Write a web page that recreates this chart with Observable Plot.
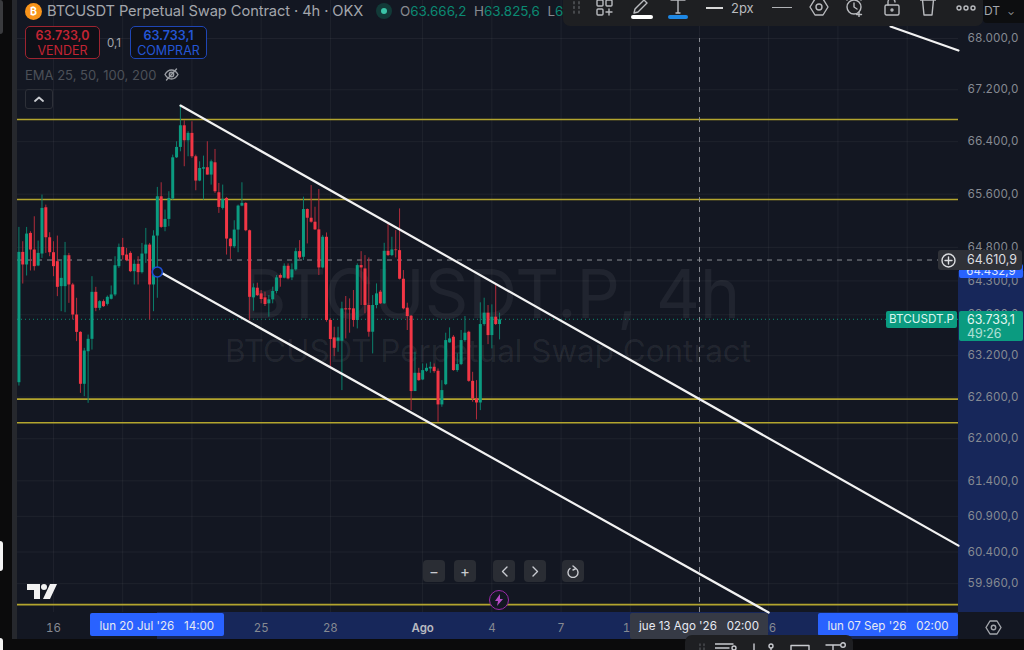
<!DOCTYPE html>
<html lang="es">
<head>
<meta charset="utf-8">
<script src="https://cdn.jsdelivr.net/npm/d3@7"></script>
<script src="https://cdn.jsdelivr.net/npm/@observablehq/plot@0.6"></script>
<style>
html,body{margin:0;padding:0;background:#0b0b0c;}
#stage{position:relative;width:1024px;height:650px;overflow:hidden;font-family:Inter,"Noto Sans",sans-serif;color:#9a9da3;}
#stage svg.plot-root{position:absolute;left:0;top:0;z-index:1;}
.ab{position:absolute;box-sizing:border-box;}
.under{z-index:0;}
.over{z-index:2;white-space:nowrap;}
.btn{background:#2a2d34;border-radius:4px;width:22px;height:22px;display:flex;align-items:center;justify-content:center;color:#c9cbd0;}
.tl{height:23px;line-height:26px;color:#e6e9f2;font-size:11.6px;text-align:center;border-radius:2px;}
</style>
</head>
<body>
<div id="stage">
  <div class="ab under" style="left:17px;top:0;width:1007px;height:639px;background:#131722"></div>
  <div class="ab under" style="left:12px;top:0;width:5px;height:639px;background:#26282d"></div>
  <div class="ab under" style="left:157px;top:612px;width:801px;height:27px;background:#17275a"></div>
  <div class="ab under" id="priceBand" style="left:958px;width:66px;background:#17275a"></div>
</div>
<script>
const opens = [62807,64725,64537,65009,64760,64522,64700,65395,64944,64720,64586,64215,64215,64675,64240,63796,63541,62784,63258,63439,64131,63894,63993,63953,64028,64092,64512,64799,64685,64710,64437,64547,64423,64700,64834,64240,64969,65561,65099,65219,65526,66153,66312,66644,66414,66527,66169,65799,65980,66002,65890,66077,65622,65385,65536,64924,64809,65059,65420,65461,65049,
64049,64192,64108,64049,63961,64020,64143,64380,64340,64518,64345,64464,64736,64652,65368,65237,65177,65062,64493,64951,63715,63460,63411,63411,63887,63887,63887,63715,64528,64478,63936,63543,63936,64133,63961,64741,64677,64761,64751,64325,63897,63779,62679,62944,62847,62973,63007,63031,62973,62486,62779,63387,63470,62983,63070,63421,63543,62827,62572,62514,63656,63823,63494,63764,63656];
const highs = [65099,64884,65099,65034,65259,64894,65587,65435,65019,64884,64969,64610,64874,64710,64264,64043,63551,63307,63502,64363,64205,64008,64018,64077,64225,64660,64849,64934,64784,64735,64610,64660,64859,65084,64859,65049,65703,65773,65360,65637,66194,66399,66963,66721,66552,66706,66194,66092,66179,66399,66118,66281,65763,65738,65551,64934,65199,65435,65773,65471,65059,
64256,64266,64158,64133,64083,64207,64380,64404,64553,64553,64553,64786,64901,65555,65378,65731,65403,65671,64976,65016,63740,63617,63617,63985,64069,64034,64158,64553,64736,64677,64642,64083,64256,64158,64861,65152,64951,65052,65378,64454,63970,63789,63250,63016,63080,63080,63104,63080,63007,62837,63529,63607,63494,63226,63568,63774,63558,62958,62837,63976,64044,63936,63946,64246,63823];
const lows = [62759,64254,64373,64447,64447,64512,64635,64710,64660,64363,64067,63845,63830,63968,63722,63405,62653,62605,62509,63282,63845,63860,63909,63929,64018,64067,64487,64610,64586,64423,64240,64240,64403,64561,63722,63845,64043,65084,65034,65109,65511,66143,66245,66017,66169,66143,65652,65789,65511,65890,65738,65612,65310,65360,64685,64620,64784,64720,65410,65034,63712,
63852,64069,63961,63921,63764,63961,64108,64207,64330,64315,64305,64444,64618,64603,64851,65162,65052,64380,64478,63690,63041,63187,63250,62693,63445,63529,63617,63592,63936,63813,63470,63226,63887,63951,63951,64662,64662,64642,64315,63872,63568,62404,62679,62827,62837,62958,62944,62944,62236,62452,62765,63382,62973,62958,63055,63396,62813,62524,62270,62404,63632,63362,63299,63641,63431];
const closes = [64725,64537,64999,64760,64512,64710,65385,64944,64720,64512,64205,64338,64675,64240,63796,63541,62784,63268,63439,64131,63894,63993,63919,64057,64092,64526,64799,64675,64600,64437,64547,64423,64700,64834,64240,64969,65561,65099,65219,65536,66153,66312,66644,66414,66527,66169,65799,65990,66002,65890,66092,65637,65400,65521,64924,64809,65059,65420,65461,65049,64057,
64197,64083,64025,63951,64020,64143,64345,64340,64518,64330,64464,64736,64642,65368,65237,65177,65062,64493,64951,63715,63436,63308,63460,63887,63872,63872,63715,64528,64493,63936,63543,63936,64108,63961,64741,64677,64761,64751,64325,63887,63774,62679,62944,62837,62983,63016,63031,62968,62486,62693,63421,63445,62983,63070,63421,63529,62827,62572,62514,63656,63823,63494,63764,63656,63725];
const firstCandle = "2026-07-14T14:00Z";
const candleHours = 4;

const levels = [66740,65520,62570,62230,59671];
const channelUpper = [["2026-07-21T14:06Z",66956],["2026-08-24T07:26Z",60489]];
const channelLower = [["2026-07-20T14:00Z",64454],["2026-08-16T02:00Z",59563]];
const channelThird = [["2026-08-21T08:43Z",68188],["2026-08-24T07:26Z",67812]];
const crossPrice = 64610.9, crossDate = "2026-08-13T02:00Z", lastPrice = 63733.1, anchorPrice = 64432.9, anchorDate = "2026-07-20T14:00Z";

const yTicks = [68000,67200,66400,65600,64800,64300,63800,63200,62600,62000,61400,60900,60400,59960];
const xTicks = ["07-16","07-19","07-22","07-25","07-28","08-01","08-04","08-07","08-10","08-13","08-16","08-19","08-22"];
const xLabels = ["16","","","25","28","Ago","4","7","10","","16","",""];

const D = s => new Date(s);
const t0 = +D(firstCandle);
const candles = opens.map((o,i)=>({date:new Date(t0+i*candleHours*3600e3),o,h:highs[i],l:lows[i],c:closes[i],up:closes[i]>=o}));
const xT = xTicks.map(s=>D("2026-"+s+"T02:00Z"));
const xLab = new Map(xT.map((d,i)=>[+d,xLabels[i]]));
const es = d3.formatLocale({decimal:",",thousands:".",grouping:[3]}).format(",.1f");
const seg = (a)=>a.map(([d,p])=>({d:D(d),p}));
const GREEN="#0b9b80", RED="#f23645", GW="#0b7f6b", RW="#b02c3b", YEL="#b3a52e";

const plot = Plot.plot({
  width:1024,height:639,marginLeft:17,marginRight:66,marginTop:0,marginBottom:27,
  style:{background:"transparent",fontFamily:"Inter,'Noto Sans',sans-serif",fontSize:"11.5px",color:"#868a92"},
  x:{type:"utc",domain:[D("2026-07-14T12:32Z"),D("2026-08-24T07:26Z")]},
  y:{type:"log",domain:[59563,68599]},
  marks:[
    Plot.ruleX(xT,{stroke:"#fff",strokeOpacity:.05}),
    Plot.ruleY(yTicks,{stroke:"#fff",strokeOpacity:.05}),
    Plot.text(["BTCUSDT.P, 4h"],{frameAnchor:"middle",dx:3,dy:-10,fontSize:68,fill:"#fff",fillOpacity:.06}),
    Plot.text(["BTCUSDT Perpetual Swap Contract"],{frameAnchor:"middle",dx:0,dy:45,fontSize:31.4,fill:"#fff",fillOpacity:.07}),
    Plot.ruleY(levels,{stroke:YEL,strokeWidth:1.6}),
    Plot.ruleY([crossPrice],{stroke:"#8a8d94",strokeDasharray:"5,5",strokeWidth:1}),
    Plot.ruleY([lastPrice],{stroke:"#0b8a73",strokeDasharray:"1,3",strokeWidth:1}),
    Plot.ruleX(candles,{x:"date",y1:"l",y2:"h",stroke:d=>d.up?GW:RW,strokeWidth:1}),
    Plot.ruleX(candles,{x:"date",y1:"o",y2:"c",stroke:d=>d.up?GREEN:RED,strokeWidth:3}),
    Plot.ruleX([D(crossDate)],{y1:59563,y2:68000,stroke:"#8a8d94",strokeDasharray:"5,5",strokeWidth:1}),
    Plot.line(seg(channelUpper),{x:"d",y:"p",stroke:"#f2f2f2",strokeWidth:2.2}),
    Plot.line(seg(channelLower),{x:"d",y:"p",stroke:"#f2f2f2",strokeWidth:2.2}),
    Plot.line(seg(channelThird),{x:"d",y:"p",stroke:"#f2f2f2",strokeWidth:2.2}),
    Plot.dot([{d:D(anchorDate),p:anchorPrice}],{x:"d",y:"p",r:5,stroke:"#1e50d8",strokeWidth:1.6,fill:"#131722"}),
    Plot.axisY({anchor:"right",ticks:yTicks,tickSize:0,tickPadding:9,tickFormat:es,label:null,fill:"#868a92"}),
    Plot.axisX({anchor:"bottom",ticks:xT.filter(d=>xLab.get(+d)&&xLab.get(+d)!=="Ago"),tickSize:0,tickPadding:11,tickFormat:d=>xLab.get(+d),label:null,fill:"#868a92"}),
    Plot.axisX({anchor:"bottom",ticks:xT.filter(d=>xLab.get(+d)==="Ago"),tickSize:0,tickPadding:11,tickFormat:d=>xLab.get(+d),label:null,fill:"#b8bac0",fontWeight:600})
  ]
});
plot.classList.add("plot-root");
const stage=document.getElementById("stage");
stage.appendChild(plot);
const X=plot.scale("x").apply, Y=plot.scale("y").apply;

document.getElementById("priceBand").style.top=Y(anchorPrice)+"px";
document.getElementById("priceBand").style.height=(612-Y(anchorPrice))+"px";

function el(style,html,cls){const d=document.createElement("div");d.className="ab over "+(cls||"");d.style.cssText=style;d.innerHTML=html||"";stage.appendChild(d);return d;}
const ic=(w,h,body,extra)=>`<svg width="${w}" height="${h}" viewBox="0 0 ${w} ${h}" fill="none" stroke="currentColor" stroke-width="1.4" stroke-linecap="round" stroke-linejoin="round" style="display:block;${extra||''}">${body}</svg>`;

// left / bottom screen furniture
el("left:0;top:0;width:12px;height:650px;background:#0b0b0c");
el("left:0;top:0;width:3px;height:34px;background:#3a3b3e;border-radius:0 3px 3px 0");
el("left:0;top:541px;width:3px;height:30px;background:#f4f4f4;border-radius:0 3px 3px 0");
el("left:0;top:638px;width:3px;height:12px;background:#f4f4f4;border-radius:0 3px 0 0");

// header
el("left:25px;top:3px;width:17px;height:17px;border-radius:50%;background:#f7931a;color:#fff;font-size:10.5px;font-weight:700;text-align:center;line-height:17px","₿");
el("left:47px;top:2px;font-size:14.7px;line-height:19px;color:#a3a6ac;letter-spacing:-.1px","BTCUSDT Perpetual Swap Contract · 4h · OKX");
el("left:376px;top:3px;width:16px;height:16px;border-radius:50%;background:#123a38");
el("left:381px;top:8px;width:6px;height:6px;border-radius:50%;background:#3bc4a8");
el("left:400px;top:3px;font-size:13.4px;line-height:16px;color:#878a90","O<span style='color:#0b8a73'>63.666,2</span>&nbsp; H<span style='color:#0b8a73'>63.825,6</span>&nbsp; L<span style='color:#0b8a73'>63</span>");
el("left:25px;top:26px;width:75px;height:33px;border:1px solid #9d2430;border-radius:5px;background:#0e1017;text-align:center;color:#c22433;font-size:12.5px;line-height:15px;padding-top:1px","<b style='font-weight:600'>63.733,0</b><br>VENDER");
el("left:107px;top:36px;font-size:11.5px;color:#a3a6ac","0,1");
el("left:130px;top:26px;width:77px;height:33px;border:1px solid #1f46b5;border-radius:5px;background:#0e1017;text-align:center;color:#2456d6;font-size:12.5px;line-height:15px;padding-top:1px","<b style='font-weight:600'>63.733,1</b><br>COMPRAR");
el("left:25px;top:67px;font-size:13px;color:#4c5058;line-height:16px","EMA 25, 50, 100, 200");
el("left:164px;top:67px;color:#9a9da3",ic(15,15,'<path d="M1 7.5C3 4 5 3 7.5 3S12 4 14 7.5C12 11 10 12 7.5 12S3 11 1 7.5Z"/><circle cx="7.5" cy="7.5" r="2.2"/><path d="M12.5 2L2.5 13"/>'));
el("left:25px;top:89px;width:28px;height:20px;border:1px solid #2d3038;border-radius:3px;color:#c9cbd0;display:flex;align-items:center;justify-content:center",ic(10,6,'<path d="M1 5L5 1.5 9 5" stroke-width="1.8"/>'));

// top toolbar
el("left:563px;top:-6px;width:420px;height:32px;background:#1e1f22;border-radius:0 0 7px 7px");
const c="#b9bbbf";
el(`left:572px;top:1px;color:#4c4e52`,ic(9,14,'<path d="M2 1v12M7 1v12" stroke-dasharray="1.5,3.2" stroke-width="1.8"/>'));
el(`left:596px;top:0;color:${c}`,ic(18,16,'<rect x="1" y="0" width="6" height="6" rx="1"/><rect x="10" y="0" width="6" height="6" rx="1"/><rect x="1" y="9" width="6" height="6" rx="1"/><path d="M13 9v6M10 12h6"/>'));
el(`left:632px;top:-2px;color:${c}`,ic(20,17,'<path d="M2 15l1-4L12 2l3 3-9 9z"/>'));
el("left:631px;top:15px;width:22px;height:4px;border-radius:2px;background:#fff");
el(`left:670px;top:-2px;color:${c}`,ic(16,17,'<path d="M1 2h14M8 2v13M6 15h4"/>'));
el("left:668px;top:15px;width:20px;height:4px;border-radius:2px;background:#1e88e5");
el("left:706px;top:7px;width:17px;height:2px;background:#d8d8d8");
el("left:731px;top:0;font-size:13px;line-height:17px;color:#b9bbbf","2px");
el("left:772px;top:7px;width:20px;height:1px;background:#b0b2b6");
el(`left:809px;top:-2px;color:${c}`,ic(20,18,'<path d="M6 1h8l5 8-5 8H6L1 9z"/><circle cx="10" cy="9" r="3"/>'));
el(`left:845px;top:-2px;color:${c}`,ic(22,19,'<circle cx="9" cy="9" r="7"/><path d="M9 5v4l3 2M2 2l3-2M16 2l-3-2M14 14v5M11.5 16.5h5"/>'));
el(`left:884px;top:-2px;color:${c}`,ic(16,19,'<rect x="1" y="7" width="14" height="10" rx="1.5"/><path d="M4 7V4a3.5 3.5 0 0 1 7 0"/><circle cx="8" cy="12" r="1"/>'));
el(`left:920px;top:-1px;color:${c}`,ic(16,18,'<path d="M0 1h16M2.5 1l1.5 15h8l1.5-15"/>'));
el(`left:956px;top:4px;color:${c}`,ic(20,8,'<circle cx="3" cy="4" r="2"/><circle cx="10" cy="4" r="2"/><circle cx="17" cy="4" r="2"/>'));
el("left:983px;top:0;width:41px;height:23px;background:#0d0e10;border-radius:0 0 0 4px;color:#a3a6ac;font-size:12px;line-height:22px;padding-left:1px","DT <span style='font-size:9px;margin-left:4px'>⌄</span>");

// price tags positioned from the scale
const yc=Y(crossPrice), ya=Y(anchorPrice), yl=Y(lastPrice);
el(`left:959px;top:${ya-7}px;width:64px;height:14px;background:#2962ff;border-radius:2px;color:#dfe6ff;font-size:11.5px;line-height:14px;text-align:center`,es(anchorPrice));
el(`left:938px;top:${yc-10}px;width:84px;height:20px;background:#2f3137;border-radius:3px;color:#dcdde0;font-size:12.4px;line-height:20px;padding-left:29px`,es(crossPrice));
el(`left:941px;top:${yc-7}px;color:#dcdde0`,ic(15,15,'<circle cx="7.5" cy="7.5" r="6.5"/><path d="M7.5 4v7M4 7.5h7"/>'));
el(`left:886px;top:${yl-8}px;width:71px;height:17px;background:#0b9b80;border-radius:2px;color:#d8f5ee;font-size:11.7px;line-height:17px;text-align:center`,"BTCUSDT.P");
el(`left:959px;top:${yl-8}px;width:64px;height:30px;background:#0b9b80;border-radius:2px;color:#e4f7f2;font-size:12.4px;line-height:14px;padding:2px 0 0 8px`,es(lastPrice)+"<br><span style='opacity:.75'>49:26</span>");

// time tags positioned from the scale
const xa=X(D(anchorDate)), xc=X(D(crossDate));
el(`left:${xa-67}px;top:613px;width:134px;`,"lun 20 Jul '26 &nbsp; 14:00","tl").style.background="#2962ff";
el(`left:${xc-69}px;top:613px;width:138px;height:26px;`,"jue 13 Ago '26 &nbsp; 02:00","tl").style.background="#363a45";
el("left:818px;top:613px;width:140px;","lun 07 Sep '26 &nbsp; 02:00","tl").style.background="#2962ff";

// zoom controls
[[423,"−"],[454,"+"]].forEach(([l,t])=>el(`left:${l}px;top:560px;font-size:15px`,t,"btn"));
el("left:493px;top:560px",ic(7,11,'<path d="M6 1L1.5 5.5 6 10"/>'),"btn");
el("left:524px;top:560px",ic(7,11,'<path d="M1 1l4.5 4.5L1 10"/>'),"btn");
el("left:562px;top:560px",ic(12,13,'<path d="M3 3.5a5 5 0 1 0 6 0M6 1L9 3.5 6 5"/>'),"btn");

// logo, bolt, gear, bottom panel
el("left:27px;top:584px",`<svg width="30" height="16" viewBox="0 0 30 16" style="display:block"><path fill="#f2f2f2" d="M0 0h13v15H7V6H0z"/><circle fill="#f2f2f2" cx="17" cy="3" r="3"/><path fill="#f2f2f2" d="M23 0h7l-7 15h-7z"/></svg>`);
el("left:489px;top:590px;width:20px;height:20px;border-radius:50%;border:1.5px solid #9a2aa8;background:#131722;color:#b54cc4;display:flex;align-items:center;justify-content:center",`<svg width="8" height="12" viewBox="0 0 8 12" style="display:block"><path fill="currentColor" d="M5 0L0 7h3l-1 5 6-7H5z"/></svg>`);
el("left:985px;top:619px;color:#a3a6ac",ic(17,17,'<path d="M5 2h7l4 6.5-4 6.5H5L1 8.5z"/><circle cx="8.5" cy="8.5" r="2.2"/>'));
el("left:685px;top:635px;width:168px;height:20px;background:#1e1f22;border-radius:7px 7px 0 0");
el("left:699px;top:643px;color:#4c4e52",ic(6,7,'<path d="M1 1v6M5 1v6" stroke-dasharray="1.5,2.5"/>'));
el("left:715px;top:643px;color:#c9cbd0",ic(22,7,'<path d="M0 1h18M0 5h14"/><circle cx="19" cy="5" r="2"/>'));
el("left:752px;top:643px;color:#c9cbd0",ic(4,7,'<path d="M2 1v6"/>'));
el("left:766px;top:643px;color:#c9cbd0",ic(10,7,'<circle cx="5" cy="3" r="2"/><path d="M5 5v2"/>'));
el("left:790px;top:644px;color:#c9cbd0",ic(20,6,'<path d="M1 6V1.5h18V6"/>'));
el("left:825px;top:642px;color:#c9cbd0",ic(22,8,'<path d="M1 3h14M8 3v5"/><circle cx="18" cy="3" r="2.3"/>'));
</script>
</body>
</html>
